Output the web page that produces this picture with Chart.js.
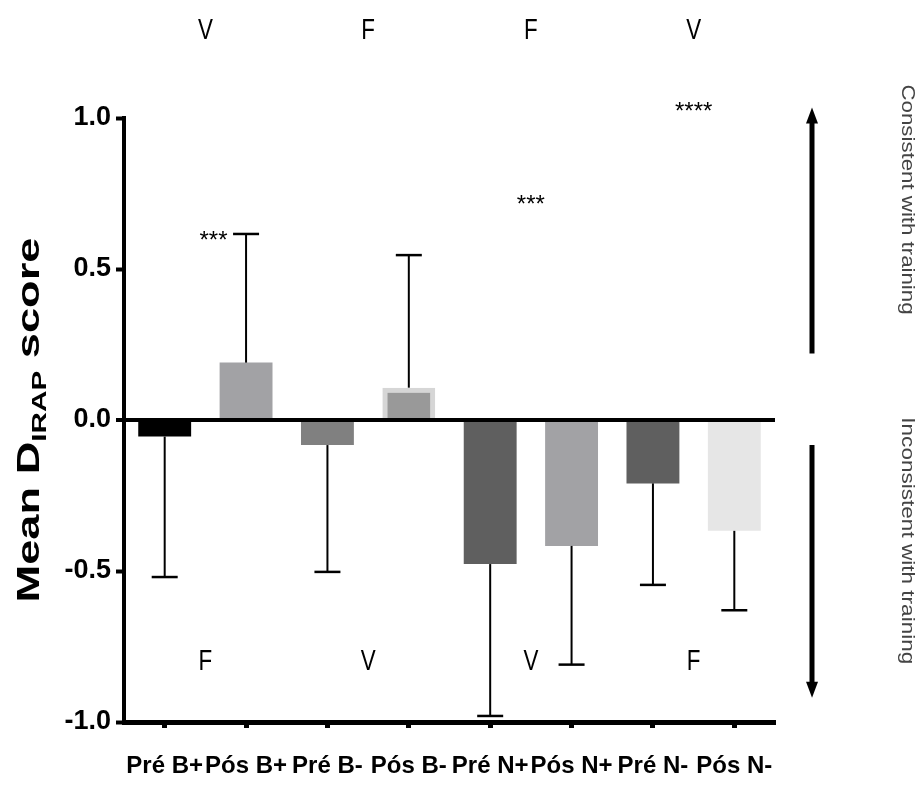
<!DOCTYPE html>
<html>
<head>
<meta charset="utf-8">
<script src="https://cdn.jsdelivr.net/npm/chart.js@4"></script>
<style>
  body { margin: 0; background: #fff; }
  #wrap { width: 921px; height: 789px; position: relative; }
</style>
</head>
<body>
<div id="wrap"><canvas id="grafico"></canvas></div>
<script>
// datos
const categorias = ['Pré B+', 'Pós B+', 'Pré B-', 'Pós B-', 'Pré N+', 'Pós N+', 'Pré N-', 'Pós N-'];
const medias = [-0.055, 0.19, -0.083, 0.107, -0.477, -0.417, -0.21, -0.367];
const errores = [0.465, 0.426, 0.42, 0.439, 0.503, 0.393, 0.336, 0.263];
const ticksY = [-1, -0.5, 0, 0.5, 1];

// anotaciones (letras y asteriscos)
const letrasArriba = ['V', 'F', 'F', 'V'];
const letrasAbajo = ['F', 'V', 'V', 'F'];
const posLetras = [0.5, 2.5, 4.5, 6.5];
const asteriscos = ['***', '***', '****'];
const posAsteriscos = [0.6, 4.5, 6.5];
const valAsteriscos = [0.59, 0.71, 1.02];

// estilos
const colores = ['#000000', '#a2a2a5', '#808080', '#999999', '#5f5f5f', '#a2a2a5', '#5f5f5f', '#e6e6e6'];
const bordes = ['#000000', '#a2a2a5', '#808080', '#d6d6d6', '#5f5f5f', '#a2a2a5', '#5f5f5f', '#e6e6e6'];
const anchoBordes = [0, 0, 0, 5, 0, 0, 0, 0];
const fuente = '"Liberation Sans", Arial, sans-serif';

const extras = {
  id: 'extras',
  afterDatasetsDraw(chart) {
    const ctx = chart.ctx;
    const x = chart.scales.x, y = chart.scales.y;
    ctx.save();
    ctx.strokeStyle = '#000';
    // barras de error (solo hacia fuera)
    medias.forEach((m, i) => {
      const cx = x.getPixelForValue(i);
      const dir = m >= 0 ? 1 : -1;
      const y0 = y.getPixelForValue(m);
      const y1 = y.getPixelForValue(m + dir * errores[i]);
      ctx.lineWidth = 2;
      ctx.beginPath(); ctx.moveTo(cx, y0); ctx.lineTo(cx, y1); ctx.stroke();
      ctx.lineWidth = 2.5;
      ctx.beginPath(); ctx.moveTo(cx - 13, y1); ctx.lineTo(cx + 13, y1); ctx.stroke();
    });
    ctx.restore();
  },
  afterDraw(chart) {
    const ctx = chart.ctx;
    const x = chart.scales.x, y = chart.scales.y;
    const area = chart.chartArea;
    ctx.save();
    ctx.fillStyle = '#000';
    ctx.textAlign = 'center';
    ctx.textBaseline = 'middle';

    // letras V / F
    const letra = (t, px, py) => {
      ctx.save();
      ctx.translate(px, py);
      ctx.scale(0.8, 1.05);
      ctx.font = '28px ' + fuente;
      ctx.fillText(t, 0, 0);
      ctx.restore();
    };
    posLetras.forEach((p, i) => {
      letra(letrasArriba[i], x.getPixelForValue(p), y.getPixelForValue(1.29));
      letra(letrasAbajo[i], x.getPixelForValue(p), y.getPixelForValue(-0.8));
    });

    // asteriscos
    ctx.font = '24px ' + fuente;
    asteriscos.forEach((t, i) => {
      ctx.fillText(t, x.getPixelForValue(posAsteriscos[i]), y.getPixelForValue(valAsteriscos[i]));
    });

    // titulo eje Y con subindice
    ctx.save();
    ctx.translate(39, (area.top + area.bottom) / 2);
    ctx.rotate(-Math.PI / 2);
    ctx.textAlign = 'left';
    ctx.textBaseline = 'alphabetic';
    const partes = [['Mean D', 32, 0], ['IRAP', 21, 7], [' score', 32, 0]];
    let total = 0;
    partes.forEach(p => { ctx.font = 'bold ' + p[1] + 'px ' + fuente; total += ctx.measureText(p[0]).width; });
    ctx.scale(365 / total, 1);
    let pos = -total / 2;
    partes.forEach(p => {
      ctx.font = 'bold ' + p[1] + 'px ' + fuente;
      ctx.fillText(p[0], pos, p[2]);
      pos += ctx.measureText(p[0]).width;
    });
    ctx.restore();

    // flechas laterales
    const ax = area.right + 37;
    const flecha = (desde, hasta) => {
      const ya = y.getPixelForValue(desde), yb = y.getPixelForValue(hasta);
      const d = yb < ya ? -1 : 1;
      ctx.strokeStyle = '#000';
      ctx.lineWidth = 5;
      ctx.beginPath(); ctx.moveTo(ax, ya); ctx.lineTo(ax, yb - d * 12); ctx.stroke();
      ctx.beginPath();
      ctx.moveTo(ax, yb);
      ctx.lineTo(ax - 6, yb - d * 16);
      ctx.lineTo(ax + 6, yb - d * 16);
      ctx.closePath(); ctx.fill();
    };
    flecha(0.22, 1.035);
    flecha(-0.083, -0.92);

    // textos laterales
    ctx.fillStyle = '#444';
    const lateral = (t, cy, largo) => {
      ctx.save();
      ctx.translate(907, cy);
      ctx.rotate(Math.PI / 2);
      ctx.font = '18px ' + fuente;
      const w = ctx.measureText(t).width;
      ctx.scale(largo / w, 1);
      ctx.textAlign = 'center';
      ctx.fillText(t, 0, 0);
      ctx.restore();
    };
    lateral('Consistent with training', y.getPixelForValue(0.73), 230);
    lateral('Inconsistent with training', y.getPixelForValue(-0.4), 247);
    ctx.restore();
  }
};

new Chart(document.getElementById('grafico'), {
  type: 'bar',
  data: {
    labels: categorias,
    datasets: [{
      data: medias,
      backgroundColor: colores,
      borderColor: bordes,
      borderWidth: anchoBordes,
      borderSkipped: 'start',
      barPercentage: 0.65,
      categoryPercentage: 1
    }]
  },
  options: {
    responsive: true,
    maintainAspectRatio: false,
    animation: false,
    layout: { padding: { top: 118, right: 146, left: 0, bottom: 0 } },
    plugins: { legend: { display: false }, tooltip: { enabled: false } },
    scales: {
      x: {
        offset: true,
        grid: { display: true, drawOnChartArea: false, offset: false, tickLength: 6, tickWidth: 5, tickColor: '#000' },
        border: { display: true, color: '#000', width: 5 },
        ticks: { color: '#000', font: { family: fuente, size: 24, weight: 'bold' }, padding: 24, autoSkip: false, maxRotation: 0 },
        afterFit: s => { s.height = 67; }
      },
      y: {
        min: -1, max: 1, z: 1,
        afterBuildTicks: s => { s.ticks = ticksY.map(v => ({ value: v })); },
        ticks: { color: '#000', font: { family: fuente, size: 27, weight: 'bold' }, padding: 5, callback: v => v.toFixed(1) },
        grid: {
          color: c => c.tick && c.tick.value === 0 ? '#000' : 'rgba(0,0,0,0)',
          lineWidth: c => c.tick && c.tick.value === 0 ? 4 : 1,
          tickLength: 8, tickWidth: 4, tickColor: '#000'
        },
        border: { display: true, color: '#000', width: 4 },
        afterFit: s => { s.width = 124; }
      }
    }
  },
  plugins: [extras]
});
</script>
</body>
</html>
